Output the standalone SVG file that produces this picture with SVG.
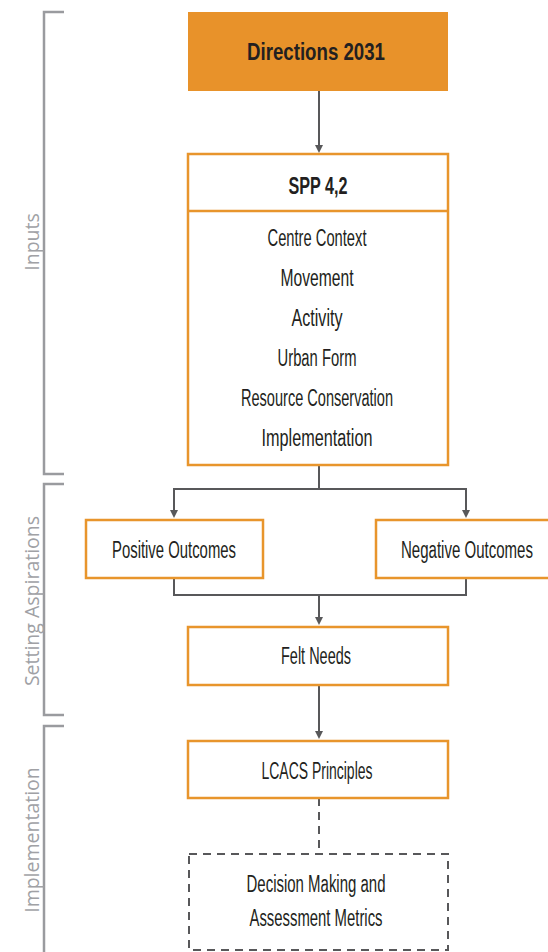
<svg xmlns="http://www.w3.org/2000/svg" width="548" height="952" viewBox="0 0 548 952">
<defs>
<marker id="arr" markerWidth="8" markerHeight="8" refX="4" refY="4" orient="auto" markerUnits="userSpaceOnUse">
<path d="M0,0 L8,4 L0,8 Z" fill="#58585a"/>
</marker>
<style>
.box{fill:#ffffff;stroke:#e8952c;stroke-width:2.5}
.dbox{fill:#ffffff;stroke:#58585a;stroke-width:2;stroke-dasharray:8,6}
.t{font-family:"Liberation Sans",Arial,sans-serif;font-size:23px;fill:#231f20;text-anchor:middle;dominant-baseline:central}
.b{font-weight:bold}
.side{font-family:"Open Sans","DejaVu Sans",sans-serif;font-size:19.5px;fill:#a0a1a5;text-anchor:middle;dominant-baseline:central}
.br{fill:none;stroke:#9a9b9f;stroke-width:2.5}
.c{fill:none;stroke:#58585a;stroke-width:2}
</style>
</defs>
<rect width="548" height="952" fill="#ffffff"/>

<g id="brackets">
<polyline class="br" points="64,12 44,12 44,474 64,474"/>
<polyline class="br" points="64,484 44,484 44,715 64,715"/>
<polyline class="br" points="64,726 44,726 44,952"/>
<text class="side" transform="translate(31,242) rotate(-90)">Inputs</text>
<text class="side" transform="translate(31,601) rotate(-90)">Setting Aspirations</text>
<text class="side" transform="translate(31,840) rotate(-90)">Implementation</text>
</g>

<g id="connectors">
<path class="c" d="M319,91 V149" marker-end="url(#arr)"/>
<path class="c" d="M319,465 V489"/>
<path class="c" d="M174,489 H466"/>
<path class="c" d="M174,488 V514" marker-end="url(#arr)"/>
<path class="c" d="M466,488 V514" marker-end="url(#arr)"/>
<path class="c" d="M174,578 V595 H466 V578"/>
<path class="c" d="M319,595 V621" marker-end="url(#arr)"/>
<path class="c" d="M319,685 V735" marker-end="url(#arr)"/>
<path class="c" d="M319,798 V852" stroke-dasharray="8,6"/>
</g>

<g id="directions">
<rect x="188" y="12" width="260" height="79" fill="#e8922a"/>
<text class="t b" x="316" y="52" font-size="30" textLength="138" lengthAdjust="spacingAndGlyphs">Directions 2031</text>
</g>

<g id="spp">
<rect class="box" x="188" y="154" width="260" height="311"/>
<line x1="188" y1="211" x2="448" y2="211" stroke="#e8952c" stroke-width="2.5"/>
<text class="t b" x="318" y="186" font-size="22" textLength="59" lengthAdjust="spacingAndGlyphs">SPP 4,2</text>
<text class="t" x="317" y="238" textLength="99" lengthAdjust="spacingAndGlyphs">Centre Context</text>
<text class="t" x="317" y="278" textLength="73" lengthAdjust="spacingAndGlyphs">Movement</text>
<text class="t" x="317" y="318" textLength="51" lengthAdjust="spacingAndGlyphs">Activity</text>
<text class="t" x="317" y="358" textLength="79" lengthAdjust="spacingAndGlyphs">Urban Form</text>
<text class="t" x="317" y="398" textLength="152" lengthAdjust="spacingAndGlyphs">Resource Conservation</text>
<text class="t" x="317" y="438" textLength="111" lengthAdjust="spacingAndGlyphs">Implementation</text>
</g>

<g id="positive">
<rect class="box" x="86" y="520" width="177" height="58"/>
<text class="t" x="174" y="550" textLength="124" lengthAdjust="spacingAndGlyphs">Positive Outcomes</text>
</g>

<g id="negative">
<rect class="box" x="376" y="520" width="174" height="58"/>
<text class="t" x="467" y="550" textLength="132" lengthAdjust="spacingAndGlyphs">Negative Outcomes</text>
</g>

<g id="felt">
<rect class="box" x="188" y="627" width="260" height="58"/>
<text class="t" x="316" y="656" textLength="70" lengthAdjust="spacingAndGlyphs">Felt Needs</text>
</g>

<g id="lcacs">
<rect class="box" x="188" y="741" width="260" height="57"/>
<text class="t" x="317" y="771" textLength="111" lengthAdjust="spacingAndGlyphs">LCACS Principles</text>
</g>

<g id="decision">
<rect class="dbox" x="189" y="854" width="259" height="96"/>
<text class="t" x="316" y="884" textLength="139" lengthAdjust="spacingAndGlyphs">Decision Making and</text>
<text class="t" x="316" y="918" textLength="133" lengthAdjust="spacingAndGlyphs">Assessment Metrics</text>
</g>
</svg>
